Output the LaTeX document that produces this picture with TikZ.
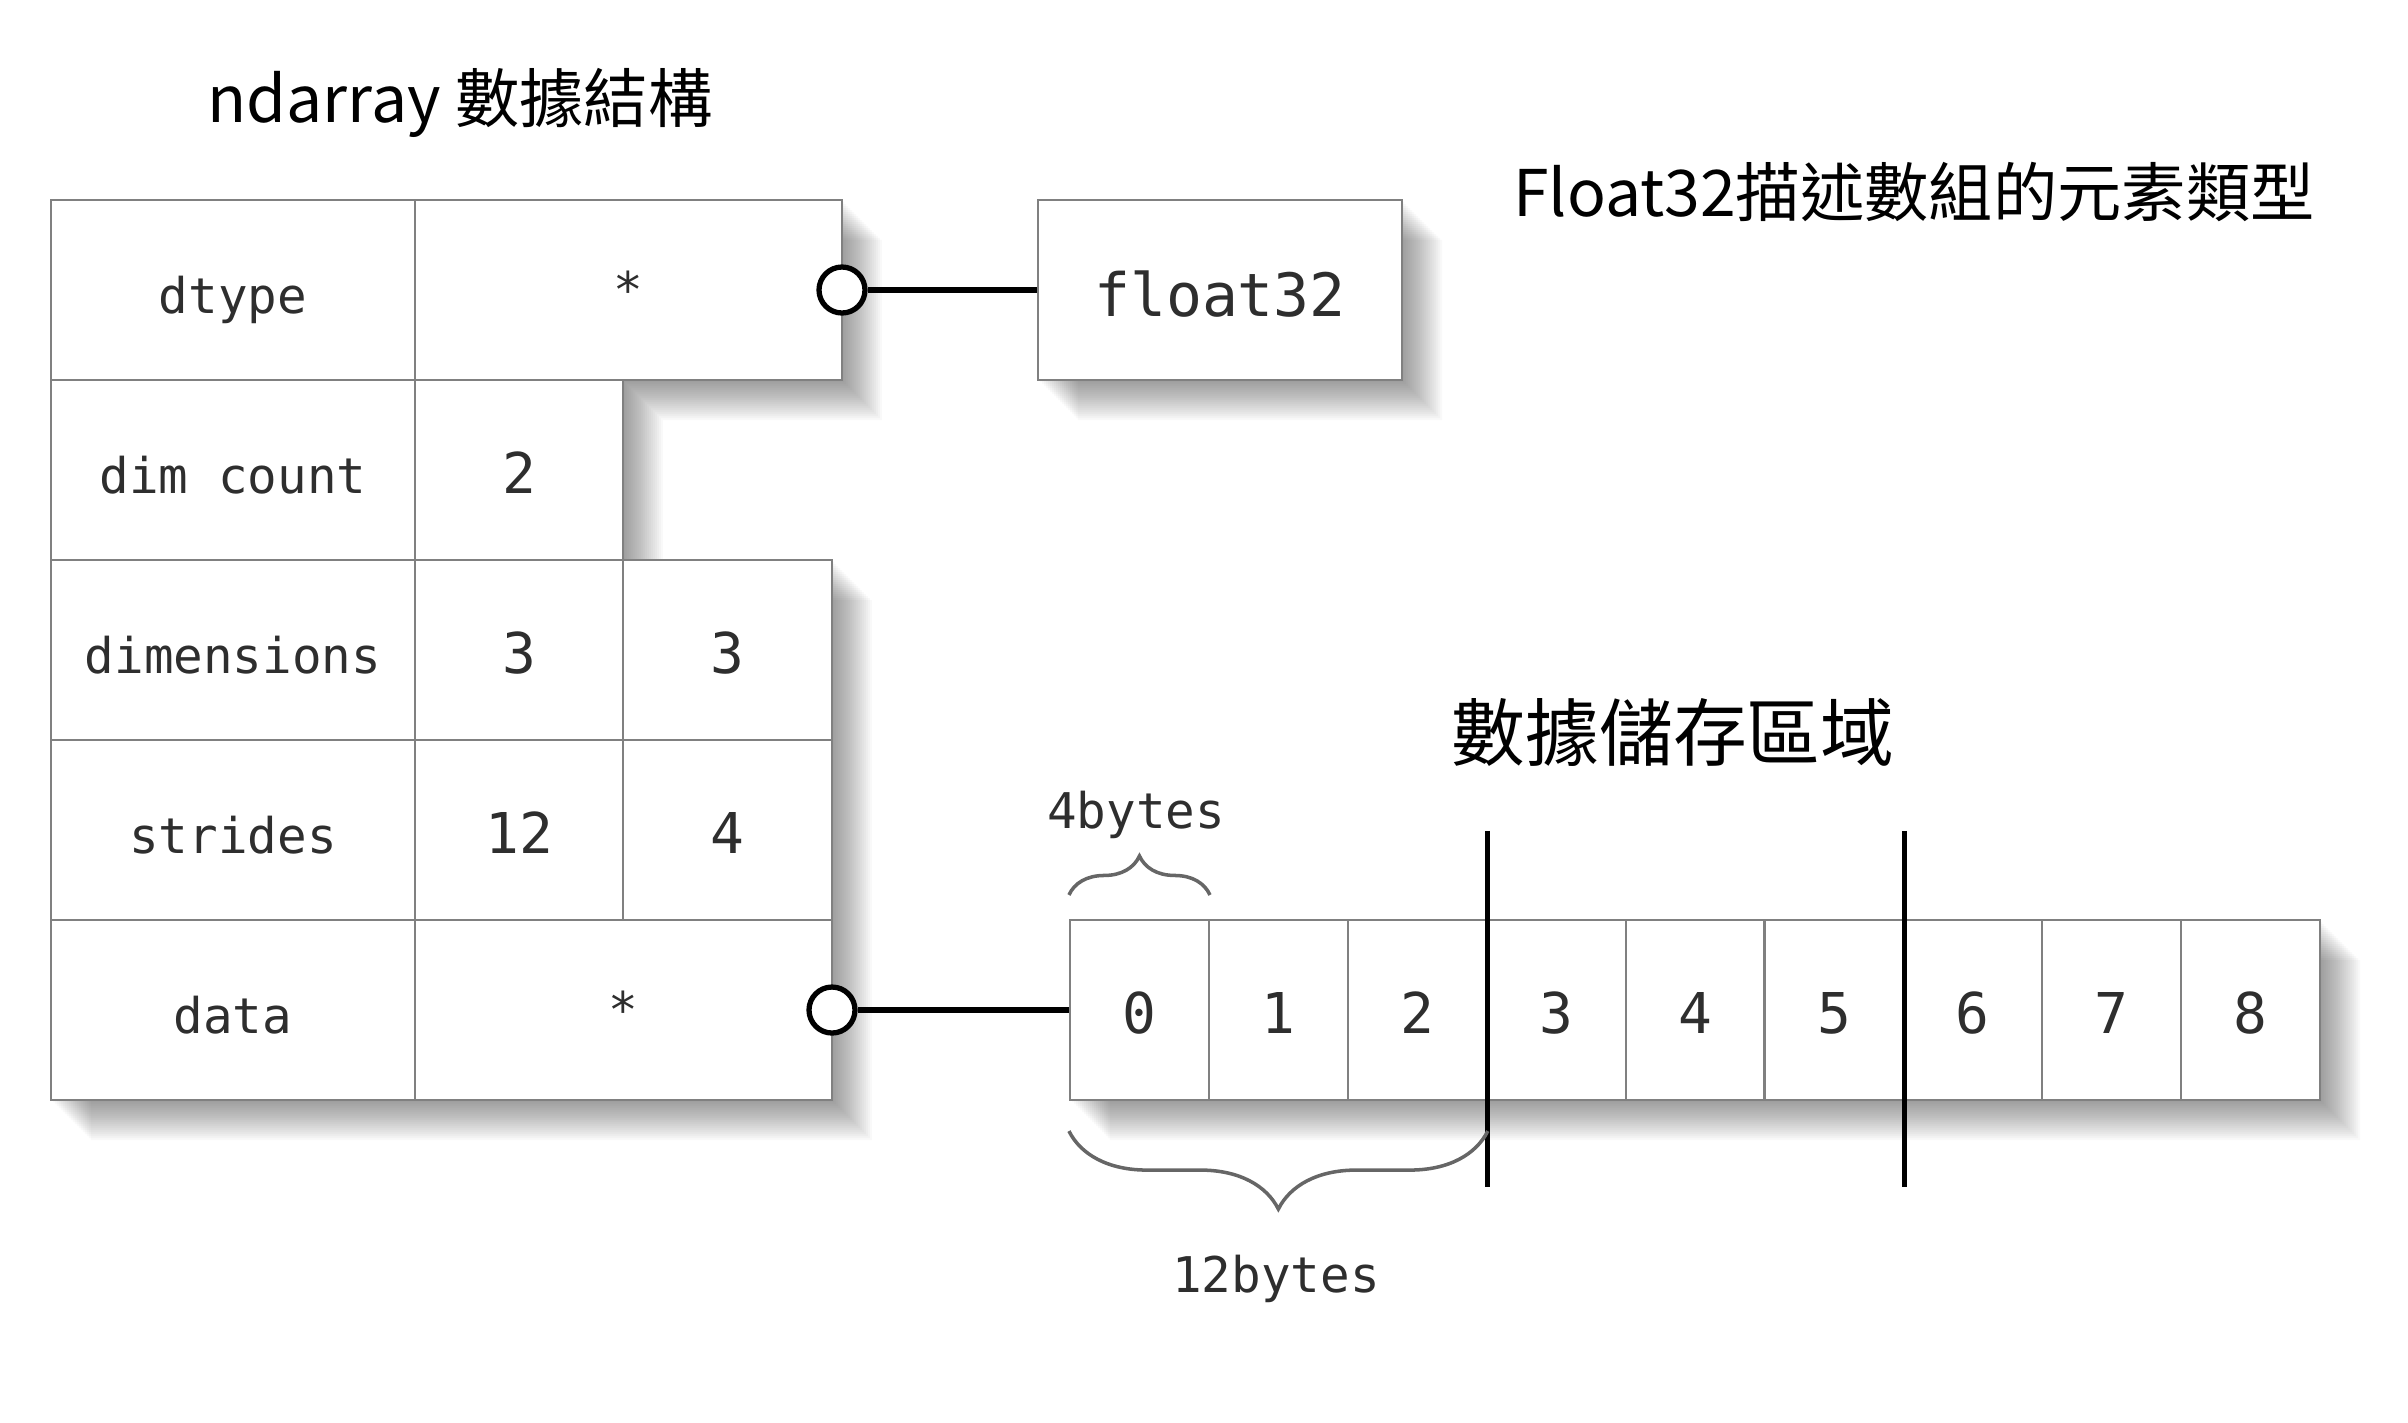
\documentclass[tikz,border=0pt]{standalone}
\usepackage{fontspec}
\setmonofont{DejaVu Sans Mono}
\newfontfamily\cjk{Noto Sans CJK TC}
\usetikzlibrary{positioning,calc,decorations.pathreplacing}
\definecolor{grid}{HTML}{808080}
\definecolor{ink}{HTML}{2E2E2E}

\begin{document}
\begin{tikzpicture}[
  cell/.style={draw=grid,line width=0.6pt,fill=white,minimum height=1.8cm,inner sep=0pt,
    text height=1.53em,text depth=0.2em,font=\ttfamily\fontsize{14}{16}\selectfont,text=ink},
  num/.style={cell,text height=1.55em,font=\ttfamily\fontsize{16}{18}\selectfont},
  star/.style={cell,text height=1.2em},
  ptr/.style={circle,draw=black,line width=1.5pt,fill=white,minimum size=4.6mm,inner sep=0pt},
  wire/.style={black,line width=1.5pt},
  sep/.style={black,line width=1.4pt},
  brc/.style={decorate,draw=black!60,line width=1pt},
  lbl/.style={font=\ttfamily\fontsize{14}{16}\selectfont,text=ink},
  ttl/.style={font=\cjk\fontsize{18.3}{22}\selectfont,inner sep=0pt}]
\useasboundingbox (0,0) rectangle (24.08,-14.22);

% ---- shadows
\foreach \d in {0.02,0.04,...,0.4}{
  \fill[black,opacity=0.025,shift={(\d,-\d)}]
    (0.51,-2.00) -- (8.42,-2.00) -- (8.42,-3.80) -- (6.23,-3.80) -- (6.23,-5.60)
      -- (8.32,-5.60) -- (8.32,-11.00) -- (0.51,-11.00) -- cycle
    (10.38,-2.00) rectangle (14.02,-3.80)
    (10.70,-9.20) rectangle (23.20,-11.00);
}

% ---- ndarray struct
\node[ttl] (hdr) at (4.60,-1.03) {ndarray 數據結構};
\node[cell,minimum width=3.64cm] (dtype) at (2.33,-2.90) {dtype};
\node[star,minimum width=4.27cm] (dtypev) at (6.285,-2.90) {*};
\node[cell,minimum width=3.64cm] (ndim) at (2.33,-4.70) {dim count};
\node[num,minimum width=2.08cm] (ndimv) at (5.19,-4.70) {2};
\node[cell,minimum width=3.64cm] (dims) at (2.33,-6.50) {dimensions};
\node[num,minimum width=2.08cm] (dimsa) at (5.19,-6.50) {3};
\node[num,minimum width=2.09cm] (dimsb) at (7.275,-6.50) {3};
\node[cell,minimum width=3.64cm] (strd) at (2.33,-8.30) {strides};
\node[num,minimum width=2.08cm] (strda) at (5.19,-8.30) {12};
\node[num,minimum width=2.09cm] (strdb) at (7.275,-8.30) {4};
\node[cell,minimum width=3.64cm] (data) at (2.33,-10.10) {data};
\node[star,minimum width=4.17cm] (datav) at (6.235,-10.10) {*};

% ---- element type
\node[ttl] (hdrtype) at (19.14,-1.92) {Float32描述數組的元素類型};
\node[cell,minimum width=3.64cm,text height=1.7em,font=\ttfamily\fontsize{17}{19}\selectfont] (f32) at (12.20,-2.90) {float32};
\node[ptr] (dtptr) at (8.42,-2.90) {};
\draw[wire] (dtptr) -- (f32);

% ---- data buffer
\node[ttl,font=\cjk\fontsize{21}{25}\selectfont] (hdrbuf) at (16.73,-7.32) {數據儲存區域};
\foreach \i in {0,...,8}
  \node[num,minimum width=1.389cm] (c\i) at ({10.70+1.389*(\i+0.5)},-10.10) {\i};
\node[ptr] (dptr) at (8.32,-10.10) {};
\draw[wire] (dptr) -- (c0);
\draw[sep] ($(c2.north east)+(0,0.88)$) -- ($(c2.south east)+(0,-0.86)$);
\draw[sep] ($(c5.north east)+(0,0.88)$) -- ($(c5.south east)+(0,-0.86)$);

% ---- sizes
\draw[brc,decoration={brace,amplitude=0.39cm}] ($(c0.north west)+(0,0.24)$) -- ($(c0.north east)+(0,0.24)$);
\node[lbl] (four) at (11.36,-8.15) {4bytes};
\draw[brc,decoration={brace,amplitude=0.78cm}] ($(c2.south east)+(0,-0.30)$) -- ($(c0.south west)+(0,-0.30)$);
\node[lbl] (twelve) at (12.76,-12.79) {12bytes};
\end{tikzpicture}
\end{document}
